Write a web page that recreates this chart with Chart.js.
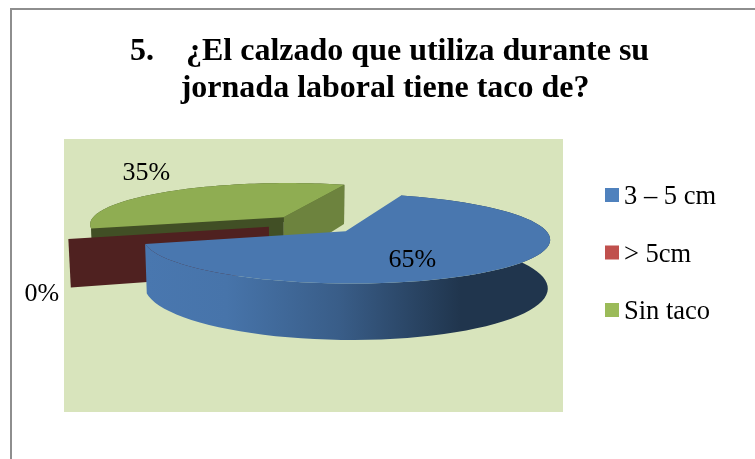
<!DOCTYPE html>
<html lang="es">
<head>
<meta charset="utf-8">
<style>
  html, body { margin: 0; padding: 0; background: #fff; }
  canvas { display: block; }
</style>
<script src="https://cdn.jsdelivr.net/npm/chart.js@4/dist/chart.umd.min.js"></script>
</head>
<body>
<canvas id="chart" width="755" height="459"></canvas>
<script>
// Survey answers, in percent
const categories = ['3 – 5 cm', '> 5cm', 'Sin taco'];
const shares = [65, 0, 35];
const sliceColors = ['#4f81bd', '#c0504d', '#9bbb59'];
const titleLines = [
  '5.\u00a0\u00a0\u00a0\u00a0¿El calzado que utiliza durante su',
  '\u00a0\u00a0\u00a0\u00a0\u00a0\u00a0\u200ajornada laboral tiene taco de?'
];

// Tilted-disc view: sizes as fractions of the plot height, disc radius = 1
const VIEW = { spanX: 0.716, spanY: 0.152, depth: 0.1685, lift: 0.1886, persp: 0.157, floorShrink: 0.99 };
// How far each slice is pulled out from the middle of the disc
const explode = [0.235, 0.235, 0.23];
// Where each percentage sits on the disc plane (across, toward viewer)
const labelSpots = [[0.445, 0.77], [-1.10, 1.33], [-1.06, -1.52]];
const SERIF = '"Liberation Serif", "Times New Roman", serif';

function shade(hex, f) {
  const n = parseInt(hex.slice(1), 16);
  return `rgb(${Math.round((n >> 16) * f)},${Math.round(((n >> 8) & 255) * f)},${Math.round((n & 255) * f)})`;
}

function projector(area) {
  const h = area.height;
  const ax = (area.left + area.right) / 2;
  const ay = (area.top + area.bottom) / 2 - VIEW.lift * h;
  return (u, v, floor) => {
    const w = 1 - VIEW.persp * v;
    let x = VIEW.spanX * h * u / w;
    let y = VIEW.spanY * h * v / w;
    if (floor) { x *= VIEW.floorShrink; y += VIEW.depth * h / w; }
    return [ax + x, ay + y];
  };
}

function tracePolygon(ctx, pts) {
  ctx.beginPath();
  pts.forEach((p, i) => (i ? ctx.lineTo(p[0], p[1]) : ctx.moveTo(p[0], p[1])));
  ctx.closePath();
}

function rimPoints(proj, arc, ou, ov, floor) {
  const pts = [];
  const steps = 72;
  for (let i = 0; i <= steps; i++) {
    const a = arc.startAngle + (arc.endAngle - arc.startAngle) * i / steps;
    pts.push(proj(ou + Math.cos(a), ov + Math.sin(a), floor));
  }
  return pts;
}

// Draws one radial wall from the slice apex out to the rim at the given angle
function radialWall(ctx, proj, ou, ov, angle, fill) {
  const ru = ou + Math.cos(angle), rv = ov + Math.sin(angle);
  tracePolygon(ctx, [proj(ou, ov, false), proj(ru, rv, false), proj(ru, rv, true), proj(ou, ov, true)]);
  ctx.fillStyle = fill;
  ctx.fill();
}

const pie3d = {
  id: 'pie3d',
  beforeDraw(chart) {
    const { ctx, chartArea: a } = chart;
    ctx.save();
    ctx.fillStyle = '#fff';
    ctx.fillRect(0, 0, chart.width, chart.height);
    // Outer frame, open on the right and at the bottom
    ctx.fillStyle = '#8e8e8e';
    ctx.fillRect(10, 8, 745, 2);
    ctx.fillRect(10, 8, 2, 451);
    // Plot backdrop
    ctx.fillStyle = '#d8e4bc';
    ctx.fillRect(a.left, a.top, a.width, a.height);
    ctx.restore();
  },
  beforeDatasetDraw(chart) {
    const { ctx, chartArea } = chart;
    const proj = projector(chartArea);
    const arcs = chart.getDatasetMeta(0).data;
    const colors = chart.data.datasets[0].backgroundColor;
    ctx.save();

    // Back slice first, then the flat zero slice, then the front slice
    [2, 1, 0].forEach(i => {
      const arc = arcs[i];
      const base = colors[i];
      const mid = (arc.startAngle + arc.endAngle) / 2;
      const ou = explode[i] * Math.cos(mid);
      const ov = explode[i] * Math.sin(mid);

      if (arc.endAngle - arc.startAngle < 1e-6) {
        radialWall(ctx, proj, ou, ov, arc.startAngle, shade(base, 0.41));
        return;
      }

      const top = rimPoints(proj, arc, ou, ov, false);
      const floor = rimPoints(proj, arc, ou, ov, true).reverse();

      if (i === 0) {
        const xs = top.map(p => p[0]);
        const g = ctx.createLinearGradient(Math.min(...xs), 0, Math.max(...xs), 0);
        g.addColorStop(0, shade(base, 0.925));
        g.addColorStop(0.2, shade(base, 0.9));
        g.addColorStop(0.48, shade(base, 0.72));
        g.addColorStop(0.78, shade(base, 0.41));
        g.addColorStop(1, shade(base, 0.41));
        tracePolygon(ctx, top.concat(floor));
        ctx.fillStyle = g;
        ctx.fill();
      } else {
        tracePolygon(ctx, top.concat(floor));
        ctx.fillStyle = shade(base, 0.42);
        ctx.fill();
        radialWall(ctx, proj, ou, ov, arc.endAngle, shade(base, 0.7));
        radialWall(ctx, proj, ou, ov, arc.startAngle, shade(base, 0.42));
      }

      tracePolygon(ctx, [proj(ou, ov, false)].concat(top));
      ctx.fillStyle = shade(base, 0.925);
      ctx.fill();
    });
    ctx.restore();
    return false;
  },
  afterDraw(chart) {
    const { ctx, chartArea } = chart;
    const proj = projector(chartArea);
    const values = chart.data.datasets[0].data;
    const total = values.reduce((s, x) => s + x, 0);
    ctx.save();
    ctx.fillStyle = '#000';
    ctx.font = `26px ${SERIF}`;
    ctx.textAlign = 'center';
    ctx.textBaseline = 'middle';
    values.forEach((val, i) => {
      const [x, y] = proj(labelSpots[i][0], labelSpots[i][1], false);
      ctx.fillText(`${Math.round(val / total * 100)}%`, x, y);
    });

    // Legend column to the right of the plot
    const boxX = chartArea.right + 42;
    ctx.font = `26.5px ${SERIF}`;
    ctx.textAlign = 'left';
    ctx.textBaseline = 'alphabetic';
    chart.data.labels.forEach((label, i) => {
      const boxY = chartArea.top + 49 + i * 57.5;
      ctx.fillStyle = chart.data.datasets[0].backgroundColor[i];
      ctx.fillRect(boxX, boxY, 14, 14);
      ctx.fillStyle = '#000';
      ctx.fillText(label, boxX + 19, boxY + 16);
    });
    ctx.restore();
  },
  afterLayout(chart) {
    chart.titleBlock.left = 130;
    chart.titleBlock.right = chart.width;
  }
};

new Chart(document.getElementById('chart'), {
  type: 'pie',
  data: {
    labels: categories,
    datasets: [{ data: shares, backgroundColor: sliceColors, borderWidth: 0 }]
  },
  options: {
    responsive: false,
    animation: false,
    rotation: 20,
    layout: { padding: { left: 64, right: 192, top: 0, bottom: 47 } },
    plugins: {
      legend: { display: false },
      tooltip: { enabled: false },
      title: {
        display: true,
        text: titleLines,
        align: 'start',
        color: '#000',
        font: { family: SERIF, size: 32, weight: 'bold', lineHeight: 37 / 32 },
        padding: { top: 33, bottom: 32 }
      }
    }
  },
  plugins: [pie3d]
});
</script>
</body>
</html>
